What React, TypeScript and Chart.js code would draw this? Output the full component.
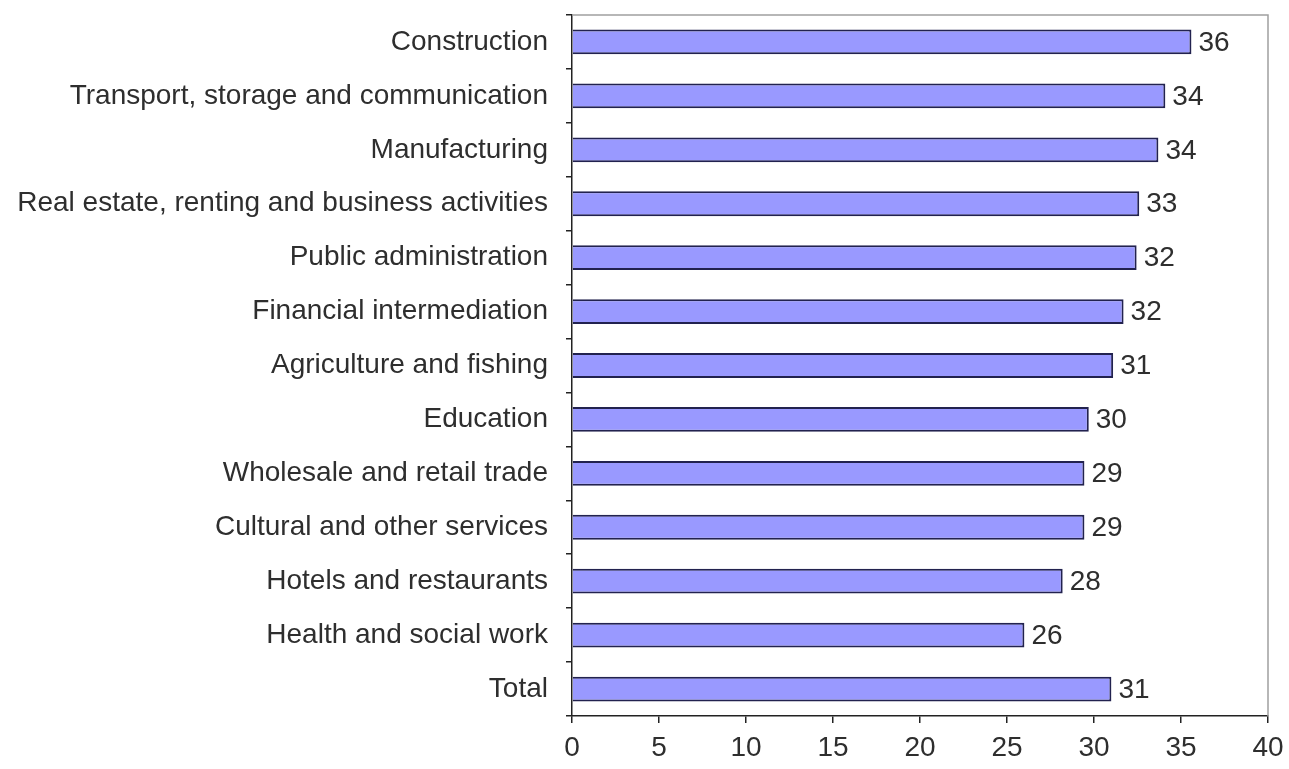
import React, { useEffect, useRef } from "react";
import { Chart, registerables } from "chart.js";

Chart.register(...registerables);

const categories = [
  "Construction",
  "Transport, storage and communication",
  "Manufacturing",
  "Real estate, renting and business activities",
  "Public administration",
  "Financial intermediation",
  "Agriculture and fishing",
  "Education",
  "Wholesale and retail trade",
  "Cultural and other services",
  "Hotels and restaurants",
  "Health and social work",
  "Total",
];

const values = [35.6, 34.1, 33.7, 32.6, 32.45, 31.7, 31.1, 29.7, 29.45, 29.45, 28.2, 26.0, 31.0];

const valueLabels = ["36", "34", "34", "33", "32", "32", "31", "30", "29", "29", "28", "26", "31"];

const xTicks = [0, 5, 10, 15, 20, 25, 30, 35, 40];

const FONT = "'Liberation Sans', Arial, sans-serif";
const TEXT = "#2e2e2e";

const frameAndLabels = {
  id: "frameAndLabels",
  afterDatasetsDraw(chart: any) {
    const { ctx, chartArea } = chart;
    ctx.save();
    ctx.strokeStyle = "#a0a0a0";
    ctx.lineWidth = 1.5;
    ctx.beginPath();
    ctx.moveTo(chartArea.left, chartArea.top);
    ctx.lineTo(chartArea.right, chartArea.top);
    ctx.lineTo(chartArea.right, chartArea.bottom);
    ctx.stroke();

    const meta = chart.getDatasetMeta(0);
    ctx.fillStyle = TEXT;
    ctx.font = `28px ${FONT}`;
    ctx.textAlign = "left";
    ctx.textBaseline = "middle";
    meta.data.forEach((el: any, i: number) => {
      ctx.fillText(valueLabels[i], el.x + 7, el.y + 1);
    });
    ctx.restore();
  },
};

export default function App() {
  const ref = useRef<HTMLCanvasElement>(null);

  useEffect(() => {
    if (!ref.current) return;
    const chart = new Chart(ref.current, {
      type: "bar",
      data: {
        labels: categories,
        datasets: [
          {
            data: values,
            backgroundColor: "#9999ff",
            borderColor: "#22224f",
            borderWidth: 2,
            barPercentage: 0.46,
            categoryPercentage: 1,
          },
        ],
      },
      options: {
        indexAxis: "y",
        animation: false,
        responsive: true,
        maintainAspectRatio: false,
        layout: { padding: { left: 0, top: 15, right: 21, bottom: 0 } },
        plugins: {
          legend: { display: false },
          tooltip: { enabled: false },
        },
        scales: {
          y: {
            type: "category",
            position: "left",
            grid: {
              display: true,
              drawOnChartArea: false,
              drawTicks: true,
              tickLength: 6,
              offset: true,
              color: "#222",
              lineWidth: 1.5,
            },
            border: { color: "#222", width: 1.5 },
            ticks: {
              padding: 18,
              color: TEXT,
              font: { family: FONT, size: 28 },
              autoSkip: false,
            },
            afterFit: (scale: any) => {
              scale.width = 572;
              scale.paddingTop = 0;
              scale.paddingBottom = 0;
            },
          },
          x: {
            type: "linear",
            min: 0,
            max: 40,
            afterBuildTicks: (scale: any) => {
              scale.ticks = xTicks.map((v) => ({ value: v }));
            },
            grid: {
              display: true,
              drawOnChartArea: false,
              drawTicks: true,
              tickLength: 7,
              color: "#222",
              lineWidth: 1.5,
            },
            border: { color: "#222", width: 1.5 },
            ticks: {
              padding: 8,
              color: TEXT,
              font: { family: FONT, size: 28 },
              maxRotation: 0,
            },
            afterFit: (scale: any) => {
              scale.height = 53;
              scale.paddingLeft = 0;
              scale.paddingRight = 0;
            },
          },
        },
      },
      plugins: [frameAndLabels],
    });
    return () => chart.destroy();
  }, []);

  return (
    <div style={{ position: "absolute", left: 0, top: 0, width: 1289, height: 769, background: "#fff" }}>
      <canvas ref={ref} />
    </div>
  );
}
